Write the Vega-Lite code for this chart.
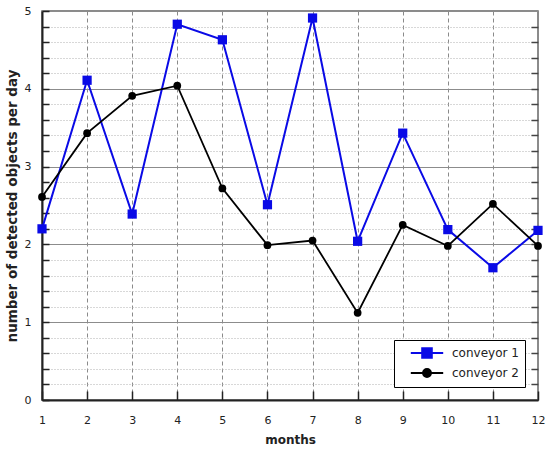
{
  "$schema": "https://vega.github.io/schema/vega-lite/v6.json",
  "autosize": "none",
  "width": 496,
  "height": 389,
  "padding": {"left": 42, "top": 11, "right": 12, "bottom": 50},
  "background": "white",
  "config": {
    "font": "DejaVu Sans",
    "view": {"stroke": "#666666", "strokeWidth": 1.5},
    "axis": {
      "labelFont": "DejaVu Sans",
      "labelFontSize": 11,
      "labelColor": "#222222",
      "titleFont": "DejaVu Sans",
      "titleFontSize": 12,
      "titleFontWeight": "bold",
      "titleColor": "#222222",
      "domainColor": "#222222",
      "domainWidth": 2,
      "tickColor": "#222222",
      "tickWidth": 1.5
    }
  },
  "datasets": {
    "counts": [
      {"month": 1, "value": 2.2, "series": "conveyor 1"},
      {"month": 2, "value": 4.11, "series": "conveyor 1"},
      {"month": 3, "value": 2.39, "series": "conveyor 1"},
      {"month": 4, "value": 4.83, "series": "conveyor 1"},
      {"month": 5, "value": 4.63, "series": "conveyor 1"},
      {"month": 6, "value": 2.51, "series": "conveyor 1"},
      {"month": 7, "value": 4.91, "series": "conveyor 1"},
      {"month": 8, "value": 2.04, "series": "conveyor 1"},
      {"month": 9, "value": 3.43, "series": "conveyor 1"},
      {"month": 10, "value": 2.19, "series": "conveyor 1"},
      {"month": 11, "value": 1.7, "series": "conveyor 1"},
      {"month": 12, "value": 2.18, "series": "conveyor 1"},
      {"month": 1, "value": 2.61, "series": "conveyor 2"},
      {"month": 2, "value": 3.43, "series": "conveyor 2"},
      {"month": 3, "value": 3.91, "series": "conveyor 2"},
      {"month": 4, "value": 4.04, "series": "conveyor 2"},
      {"month": 5, "value": 2.72, "series": "conveyor 2"},
      {"month": 6, "value": 1.99, "series": "conveyor 2"},
      {"month": 7, "value": 2.05, "series": "conveyor 2"},
      {"month": 8, "value": 1.12, "series": "conveyor 2"},
      {"month": 9, "value": 2.25, "series": "conveyor 2"},
      {"month": 10, "value": 1.98, "series": "conveyor 2"},
      {"month": 11, "value": 2.52, "series": "conveyor 2"},
      {"month": 12, "value": 1.98, "series": "conveyor 2"}
    ],
    "keys": [
      {"key": "conveyor 1"},
      {"key": "conveyor 2"}
    ]
  },
  "layer": [
    {
      "data": {"name": "counts"},
      "transform": [{"filter": "datum.series == 'conveyor 1'"}],
      "mark": {
        "type": "line",
        "color": "#0a0ae6",
        "strokeWidth": 2,
        "point": {"shape": "square", "filled": true, "size": 85, "color": "#0a0ae6"}
      },
      "encoding": {
        "x": {
          "field": "month",
          "type": "quantitative",
          "title": "months",
          "scale": {"domain": [1, 12], "nice": false, "zero": false},
          "axis": {
            "values": [1, 2, 3, 4, 5, 6, 7, 8, 9, 10, 11, 12],
            "format": "d",
            "tickSize": -9,
            "labelPadding": 23,
            "titlePadding": 9,
            "grid": true,
            "gridColor": "#8a8a8a",
            "gridDash": [4, 3],
            "gridWidth": 1,
            "labelFlush": false
          }
        },
        "y": {
          "field": "value",
          "type": "quantitative",
          "title": "number of detected objects per day",
          "scale": {"domain": [0, 5], "nice": false},
          "axis": {
            "values": [0, 0.2, 0.4, 0.6, 0.8, 1, 1.2, 1.4, 1.6, 1.8, 2, 2.2, 2.4, 2.6, 2.8, 3, 3.2, 3.4, 3.6, 3.8, 4, 4.2, 4.4, 4.6, 4.8, 5],
            "labelExpr": "abs(datum.value - round(datum.value)) < 0.001 ? format(datum.value, 'd') : ''",
            "tickSize": -7,
            "labelPadding": 18,
            "titlePadding": 5,
            "titleFontSize": 13.5,
            "labelFlush": false,
            "grid": true,
            "gridColor": {"condition": {"test": "abs(datum.value - round(datum.value)) < 0.001", "value": "#8c8c8c"}, "value": "#b0b0b0"},
            "gridDash": {"condition": {"test": "abs(datum.value - round(datum.value)) < 0.001", "value": []}, "value": [1, 2]},
            "gridWidth": 1
          }
        }
      }
    },
    {
      "data": {"name": "counts"},
      "transform": [{"filter": "datum.series == 'conveyor 2'"}],
      "mark": {
        "type": "line",
        "color": "#000000",
        "strokeWidth": 1.8,
        "point": {"shape": "circle", "filled": true, "size": 60, "color": "#000000"}
      },
      "encoding": {
        "x": {"field": "month", "type": "quantitative"},
        "y": {
          "field": "value",
          "type": "quantitative",
          "axis": {
            "orient": "right",
            "title": null,
            "values": [0.2, 0.4, 0.6, 0.8, 1, 1.2, 1.4, 1.6, 1.8, 2, 2.2, 2.4, 2.6, 2.8, 3, 3.2, 3.4, 3.6, 3.8, 4, 4.2, 4.4, 4.6, 4.8],
            "labels": false,
            "domain": false,
            "grid": false,
            "tickSize": -7,
            "tickColor": "#444444"
          }
        }
      }
    },
    {
      "data": {"name": "keys"},
      "mark": {"type": "point", "filled": true, "opacity": 0},
      "encoding": {
        "fill": {
          "field": "key",
          "type": "nominal",
          "scale": {"domain": ["conveyor 1", "conveyor 2"], "range": ["#0a0ae6", "#000000"]},
          "legend": null
        },
        "stroke": {
          "field": "key",
          "type": "nominal",
          "scale": {"domain": ["conveyor 1", "conveyor 2"], "range": ["#0a0ae6", "#000000"]},
          "legend": {
            "title": null,
            "orient": "bottom-right",
            "offset": 13,
            "padding": 6,
            "strokeColor": "#000000",
            "fillColor": "white",
            "cornerRadius": 0,
            "labelFontSize": 12,
            "labelFont": "DejaVu Sans",
            "labelColor": "#222222",
            "symbolSize": 144,
            "symbolOffset": 20,
            "symbolStrokeWidth": 2,
            "symbolOpacity": 1,
            "rowPadding": 3,
            "labelOffset": 18
          }
        },
        "shape": {
          "field": "key",
          "type": "nominal",
          "scale": {
            "domain": ["conveyor 1", "conveyor 2"],
            "range": [
              "M-2.7,0H2.7M-0.8,-0.8H0.8V0.8H-0.8Z",
              "M-2.7,0H2.7M-0.66,0A0.66,0.66 0 1,0 0.66,0A0.66,0.66 0 1,0 -0.66,0Z"
            ]
          },
          "legend": {
            "title": null,
            "orient": "bottom-right",
            "offset": 13,
            "padding": 6,
            "strokeColor": "#000000",
            "fillColor": "white",
            "cornerRadius": 0,
            "labelFontSize": 12,
            "labelFont": "DejaVu Sans",
            "labelColor": "#222222",
            "symbolSize": 144,
            "symbolOffset": 20,
            "symbolStrokeWidth": 2,
            "symbolOpacity": 1,
            "rowPadding": 3,
            "labelOffset": 18
          }
        }
      }
    }
  ],
  "resolve": {"axis": {"y": "independent"}}
}
